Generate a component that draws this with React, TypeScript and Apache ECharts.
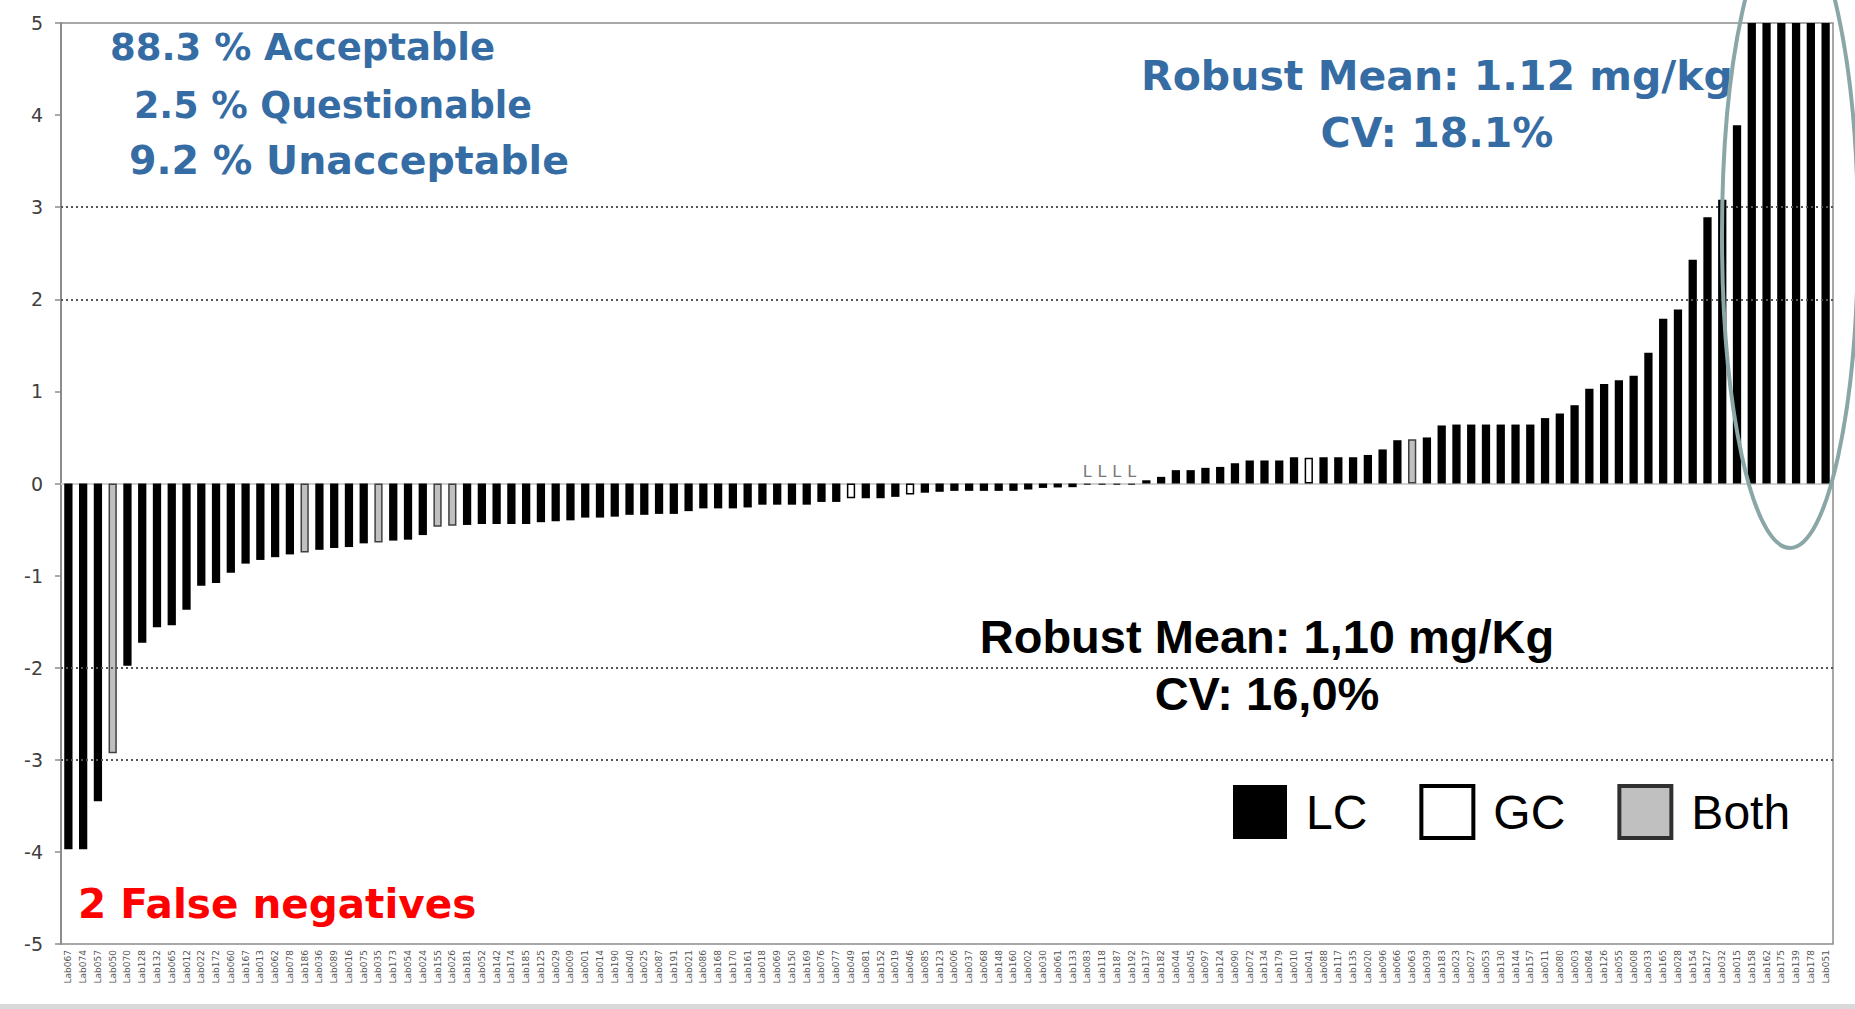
import React, { useEffect, useRef } from "react";
import * as echarts from "echarts";

const labs = [
  "Lab067", "Lab074", "Lab057", "Lab050", "Lab070", "Lab128", "Lab132", "Lab065", "Lab012", "Lab022",
  "Lab172", "Lab060", "Lab167", "Lab013", "Lab062", "Lab078", "Lab186", "Lab036", "Lab089", "Lab016",
  "Lab075", "Lab035", "Lab173", "Lab054", "Lab024", "Lab155", "Lab026", "Lab181", "Lab052", "Lab142",
  "Lab174", "Lab185", "Lab125", "Lab029", "Lab009", "Lab001", "Lab014", "Lab190", "Lab040", "Lab025",
  "Lab087", "Lab191", "Lab021", "Lab086", "Lab168", "Lab170", "Lab161", "Lab018", "Lab069", "Lab150",
  "Lab169", "Lab076", "Lab077", "Lab049", "Lab081", "Lab152", "Lab019", "Lab046", "Lab085", "Lab123",
  "Lab006", "Lab037", "Lab068", "Lab148", "Lab160", "Lab002", "Lab030", "Lab061", "Lab133", "Lab083",
  "Lab118", "Lab187", "Lab192", "Lab137", "Lab182", "Lab044", "Lab045", "Lab097", "Lab124", "Lab090",
  "Lab072", "Lab134", "Lab179", "Lab010", "Lab041", "Lab088", "Lab117", "Lab135", "Lab020", "Lab096",
  "Lab066", "Lab063", "Lab039", "Lab183", "Lab023", "Lab027", "Lab053", "Lab130", "Lab144", "Lab157",
  "Lab011", "Lab080", "Lab003", "Lab084", "Lab126", "Lab055", "Lab008", "Lab033", "Lab165", "Lab028",
  "Lab154", "Lab127", "Lab032", "Lab015", "Lab158", "Lab162", "Lab175", "Lab139", "Lab178", "Lab051",
];

const zScores = [
  -3.97, -3.97, -3.45, -2.93, -1.98, -1.73, -1.56, -1.54, -1.37, -1.11,
  -1.08, -0.97, -0.87, -0.83, -0.8, -0.77, -0.75, -0.72, -0.7, -0.69,
  -0.65, -0.64, -0.62, -0.61, -0.56, -0.47, -0.46, -0.45, -0.44, -0.44,
  -0.44, -0.44, -0.42, -0.41, -0.4, -0.37, -0.37, -0.36, -0.34, -0.34,
  -0.33, -0.33, -0.3, -0.27, -0.27, -0.27, -0.26, -0.23, -0.23, -0.23,
  -0.23, -0.2, -0.2, -0.16, -0.16, -0.16, -0.145, -0.12, -0.1, -0.09,
  -0.08, -0.08, -0.08, -0.08, -0.08, -0.065, -0.048, -0.043, -0.04, -0.015,
  -0.015, -0.015, -0.015, 0.035, 0.072, 0.145, 0.145, 0.17, 0.18, 0.22,
  0.25, 0.25, 0.25, 0.285, 0.28, 0.285, 0.285, 0.285, 0.31, 0.37,
  0.47, 0.48, 0.5, 0.63, 0.64, 0.64, 0.64, 0.64, 0.64, 0.64,
  0.71, 0.76, 0.85, 1.03, 1.08, 1.12, 1.17, 1.42, 1.79, 1.89,
  2.43, 2.89, 3.08, 3.89, 5, 5, 5, 5, 5, 5,
];

// L = LC, G = GC, B = Both
const methods = [
  "L", "L", "L", "B", "L", "L", "L", "L", "L", "L",
  "L", "L", "L", "L", "L", "L", "B", "L", "L", "L",
  "L", "B", "L", "L", "L", "B", "B", "L", "L", "L",
  "L", "L", "L", "L", "L", "L", "L", "L", "L", "L",
  "L", "L", "L", "L", "L", "L", "L", "L", "L", "L",
  "L", "L", "L", "G", "L", "L", "L", "G", "L", "L",
  "L", "L", "L", "L", "L", "L", "L", "L", "L", "B",
  "B", "B", "B", "L", "L", "L", "L", "L", "L", "L",
  "L", "L", "L", "L", "G", "L", "L", "L", "L", "L",
  "L", "B", "L", "L", "L", "L", "L", "L", "L", "L",
  "L", "L", "L", "L", "L", "L", "L", "L", "L", "L",
  "L", "L", "L", "L", "L", "L", "L", "L", "L", "L",
];

const flaggedL = ["Lab083", "Lab118", "Lab187", "Lab192"];
const limitLines = [3, 2, -2, -3];
const seriesNames = ["LC", "GC", "Both"];
const seriesCodes = ["L", "G", "B"];
const summaryLines = ["88.3 % Acceptable", "2.5 % Questionable", "9.2 % Unacceptable"];
const robustBlue = ["Robust Mean: 1.12 mg/kg", "CV: 18.1%"];
const robustBlack = ["Robust Mean: 1,10 mg/Kg", "CV: 16,0%"];
const falseNeg = "2 False negatives";

const styles: Record<string, any> = {
  L: { color: "#000000", borderColor: "#000000", borderWidth: 0 },
  G: { color: "#ffffff", borderColor: "#000000", borderWidth: 1.5 },
  B: { color: "#c0c0c0", borderColor: "#404040", borderWidth: 1.5 },
};

export default function App() {
  const ref = useRef<HTMLDivElement>(null);
  useEffect(() => {
    const chart = echarts.init(ref.current!, null, { renderer: "svg" });
    const blue = "#366ca4";
    const bold = "bold";
    const series: any[] = seriesCodes.map((code, si) => {
      const data = zScores.map((v, i) => {
        if (methods[i] !== code) return null;
        if (flaggedL.includes(labs[i])) {
          return {
            value: v,
            label: {
              show: true,
              position: "top",
              distance: 4,
              formatter: "L",
              color: "#777777",
              fontSize: 16,
              fontFamily: "DejaVu Sans",
            },
          };
        }
        return v;
      });
      const s: any = {
        name: seriesNames[si],
        type: "bar",
        data,
        barWidth: "56%",
        barGap: "-100%",
        itemStyle: styles[code],
        emphasis: { disabled: true },
      };
      if (si === 0) {
        s.markLine = {
          silent: true,
          symbol: "none",
          label: { show: false },
          lineStyle: { color: "#555555", width: 2, type: [2, 3] },
          data: limitLines.map((y) => ({ yAxis: y })),
        };
      }
      if (si === 2) {
        s.markLine = {
          silent: true,
          symbol: "none",
          label: { show: false },
          lineStyle: { color: "#d0d0d0", width: 2, type: "solid" },
          data: [{ yAxis: 0 }],
          z: 1,
        };
      }
      return s;
    });

    const gText = (text: string, x: number, y: number, font: string, fill: string, align: string) => ({
      type: "text",
      x,
      y,
      z: 100,
      style: { text, font, fill, textAlign: align, textVerticalAlign: "middle", verticalAlign: "middle" },
    });

    chart.setOption({
      animation: false,
      backgroundColor: "#ffffff",
      grid: {
        left: 61,
        right: 22,
        top: 23,
        bottom: 65,
        show: true,
        borderColor: "#8c8c8c",
        borderWidth: 1.5,
        backgroundColor: "transparent",
      },
      legend: {
        left: 1233,
        top: 784,
        padding: 0,
        itemWidth: 52,
        itemHeight: 52,
        itemGap: 52,
        icon: "rect",
        selectedMode: false,
        textStyle: {
          fontFamily: "Liberation Sans",
          fontSize: 48,
          color: "#000000",
          padding: [0, 0, 0, 15],
        },
        data: [
          { name: "LC", itemStyle: { color: "#000000", borderColor: "#000000", borderWidth: 2 } },
          { name: "GC", itemStyle: { color: "#ffffff", borderColor: "#000000", borderWidth: 4 } },
          { name: "Both", itemStyle: { color: "#c0c0c0", borderColor: "#303030", borderWidth: 4 } },
        ],
      },
      xAxis: {
        type: "category",
        data: labs,
        position: "bottom",
        axisLine: { show: false, onZero: false },
        axisTick: { show: false },
        axisLabel: {
          interval: 0,
          rotate: 90,
          fontSize: 9,
          fontFamily: "DejaVu Sans",
          color: "#555555",
          margin: 6,
        },
        splitLine: { show: false },
      },
      yAxis: {
        type: "value",
        min: -5,
        max: 5,
        interval: 1,
        axisLine: { show: true, lineStyle: { color: "#8c8c8c", width: 2 } },
        axisTick: { show: true, length: 6, lineStyle: { color: "#8c8c8c", width: 1.5 } },
        axisLabel: { fontSize: 19, fontFamily: "DejaVu Sans", color: "#404040", margin: 18 },
        splitLine: { show: false },
      },
      series,
      graphic: [
        gText(summaryLines[0], 110, 47, `${bold} 37px "DejaVu Sans"`, blue, "left"),
        gText(summaryLines[1], 134, 105, `${bold} 36.4px "DejaVu Sans"`, blue, "left"),
        gText(summaryLines[2], 129, 160, `${bold} 39.5px "DejaVu Sans"`, blue, "left"),
        gText(robustBlue[0], 1437, 76, `${bold} 41px "DejaVu Sans"`, blue, "center"),
        gText(robustBlue[1], 1437, 133, `${bold} 41px "DejaVu Sans"`, blue, "center"),
        gText(robustBlack[0], 1267, 636, `${bold} 47px "Liberation Sans"`, "#000000", "center"),
        gText(robustBlack[1], 1267, 693, `${bold} 47px "Liberation Sans"`, "#000000", "center"),
        gText(falseNeg, 78, 904, `${bold} 40.5px "DejaVu Sans"`, "#ff0000", "left"),
        {
          type: "ellipse",
          z: 101,
          shape: { cx: 1790, cy: 235, rx: 68, ry: 313 },
          style: { fill: "none", stroke: "#8aa6a7", lineWidth: 4 },
        },
        {
          type: "rect",
          z: 50,
          shape: { x: 0, y: 1004, width: 1855, height: 5 },
          style: { fill: "#d9d9d9" },
        },
      ],
    });
    return () => chart.dispose();
  }, []);
  return (
    <div
      ref={ref}
      style={{ position: "absolute", left: 0, top: 0, width: 1855, height: 1009 }}
    />
  );
}
